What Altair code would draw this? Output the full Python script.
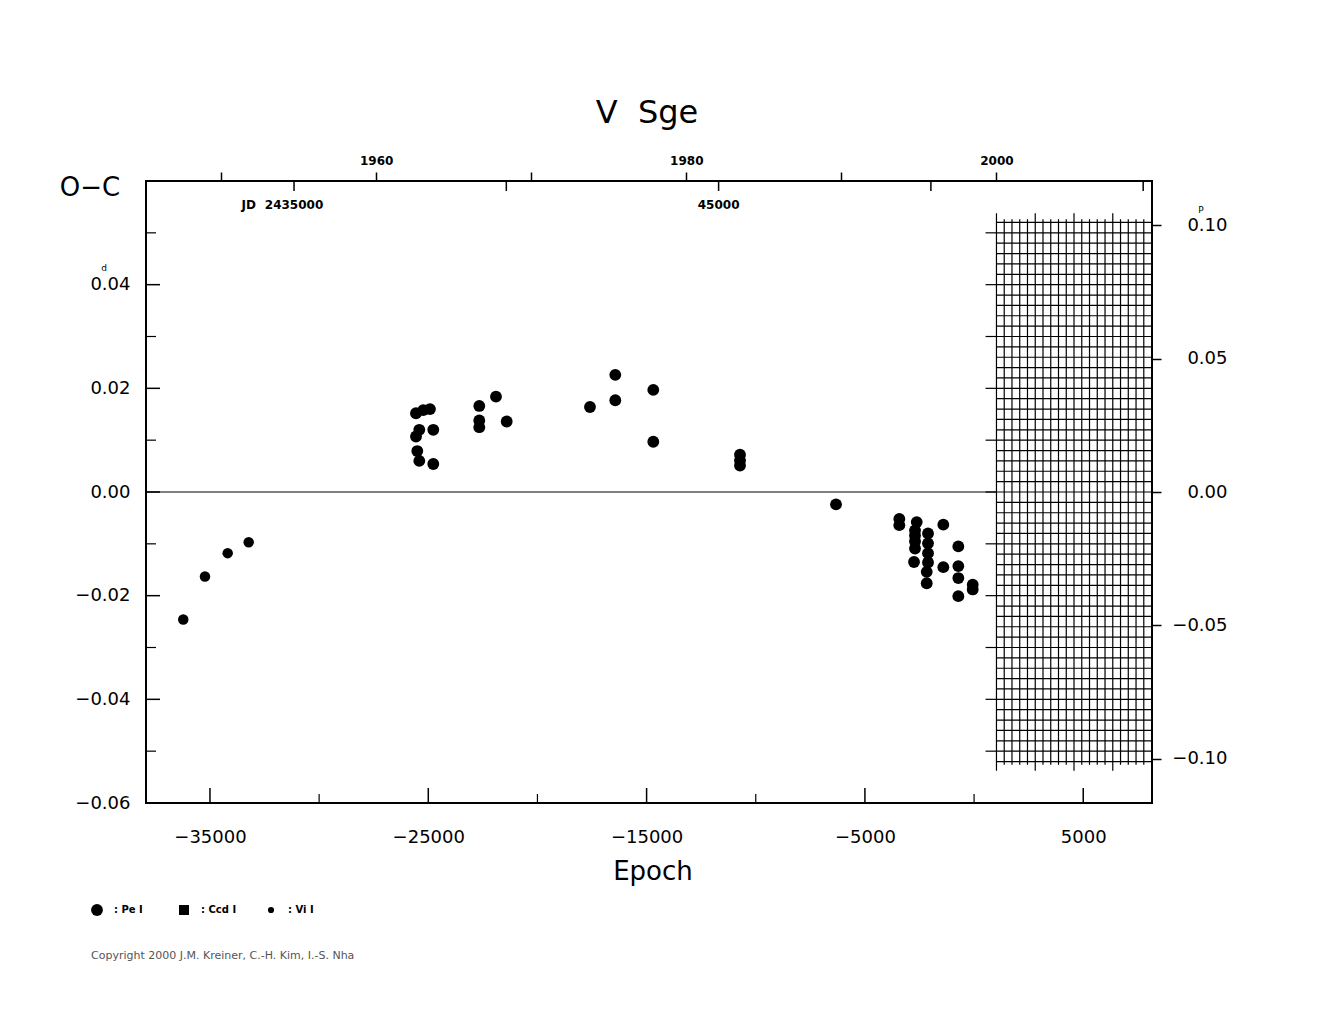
import altair as alt
import pandas as pd

# ---- ephemeris used for the calendar / JD scales on the epoch axis ----
PERIOD = 0.5142
T0 = 2451017.0
JD_2000 = 2451544.5

X_DOMAIN = [-37930, 8150]
Y_DOMAIN = [-0.06, 0.06]

# ---- data ----
pe_epoch = [-25563, -25229, -24922, -25412, -25563, -24771, -25504, -25412, -24771,
            -22664, -21899, -22664, -22664, -21409,
            -17593, -16434, -16434, -14693, -14693,
            -10722, -10722, -10722,
            -6324,
            -3424, -3424,
            -2627, -2705, -2705, -2705, -2705, -2751,
            -2110, -2110, -2110, -2110, -2169, -2169,
            -1409, -1409,
            -721, -721, -721, -721,
            -62, -62]
pe_oc = [0.0152, 0.0158, 0.0160, 0.0120, 0.0107, 0.0120, 0.0079, 0.0060, 0.0054,
         0.0166, 0.0184, 0.0138, 0.0125, 0.0136,
         0.0164, 0.0226, 0.0177, 0.0197, 0.0097,
         0.0072, 0.0061, 0.0051,
         -0.0024,
         -0.0052, -0.0064,
         -0.0058, -0.0074, -0.0084, -0.0095, -0.0109, -0.0135,
         -0.0080, -0.0099, -0.0118, -0.0136, -0.0154, -0.0176,
         -0.0063, -0.0145,
         -0.0105, -0.0143, -0.0166, -0.0201,
         -0.0179, -0.0188]
vi_epoch = [-36223, -35229, -34189, -33227]
vi_oc = [-0.0246, -0.0163, -0.0118, -0.0097]

types = ["Pe", "Ccd", "Vi"]
type_shapes = ["circle", "square", "circle"]
type_sizes = [140, 110, 38]
legend_labels = [": Pe I", ": Ccd I", ": Vi I"]

# ---- tick values ----
y_labels = [-0.06, -0.04, -0.02, 0.0, 0.02, 0.04]
y_major = [-0.04, -0.02, 0.0, 0.02, 0.04]
y_minor = [-0.05, -0.03, -0.01, 0.01, 0.03, 0.05]
x_major = [-35000, -25000, -15000, -5000, 5000]
x_minor = [-30000, -20000, -10000, 0]
year_ticks = [1950, 1960, 1970, 1980, 1990, 2000]
jd_ticks = [2435000, 2440000, 2445000, 2450000, 2455000]
jd_label_values = [2435000, 2445000]
jd_label_texts = ["2435000", "45000"]
phase_ticks = [-0.10, -0.05, 0.0, 0.05, 0.10]

# ---- hatched "future" grid (half-year columns, 0.002 d rows) ----
grid_years = [2000 + 0.5 * i for i in range(20)]
grid_rows = [round(-0.052 + 0.002 * i, 4) for i in range(53)]
grid_row_marks = [-0.05, -0.04, -0.03, -0.02, -0.01, 0.0, 0.01, 0.02, 0.03, 0.04, 0.05]


def year_to_epoch(y):
    return (JD_2000 + (y - 2000) * 365.25 - T0) / PERIOD


def jd_to_epoch(j):
    return (j - T0) / PERIOD


E2000 = year_to_epoch(2000)

xs = alt.Scale(domain=X_DOMAIN, nice=False, zero=False)
ys = alt.Scale(domain=Y_DOMAIN, nice=False, zero=False)
FONT = "DejaVu Sans"

df = pd.DataFrame({
    "epoch": pe_epoch + vi_epoch,
    "oc": pe_oc + vi_oc,
    "type": ["Pe"] * len(pe_epoch) + ["Vi"] * len(vi_epoch),
})

points = alt.Chart(df).mark_point(filled=True, opacity=1, color="black").encode(
    x=alt.X("epoch:Q", scale=xs,
            axis=alt.Axis(orient="bottom", values=x_major, format="d", ticks=False,
                          domain=False, grid=False, labelFont=FONT, labelFontSize=18,
                          labelColor="black", labelPadding=25, labelOverlap=False,
                          title=None)),
    y=alt.Y("oc:Q", scale=ys,
            axis=alt.Axis(orient="left", values=y_labels, format=".2f", ticks=False,
                          domain=False, grid=False, labelFont=FONT, labelFontSize=18,
                          labelColor="black", labelPadding=16, labelOverlap=False,
                          title=None)),
    shape=alt.Shape("type:N", scale=alt.Scale(domain=types, range=type_shapes), legend=None),
    size=alt.Size("type:N", scale=alt.Scale(domain=types, range=type_sizes), legend=None),
)

# horizontal grid rows (carry the top and right axes)
hgrid_df = pd.DataFrame({"y": grid_rows, "x1": [E2000] * len(grid_rows),
                         "x2": [X_DOMAIN[1]] * len(grid_rows)})
year_expr = f"round(2000 + (datum.value*{PERIOD} + {T0} - {JD_2000})/365.25)"
hgrid = alt.Chart(hgrid_df).mark_rule(color="black", strokeWidth=1.2).encode(
    x=alt.X("x1:Q", scale=xs,
            axis=alt.Axis(orient="top", values=[year_to_epoch(y) for y in year_ticks],
                          labelExpr=f"({year_expr}) % 20 == 0 ? format({year_expr}, 'd') : ''",
                          tickSize=9, tickWidth=1.5, tickColor="black", domain=False,
                          grid=False, labelFont=FONT, labelFontWeight="bold",
                          labelFontSize=12, labelColor="black", labelPadding=5,
                          labelOverlap=False, title=None)),
    x2="x2:Q",
    y=alt.Y("y:Q", scale=ys,
            axis=alt.Axis(orient="right", values=[p * PERIOD for p in phase_ticks],
                          labelExpr=f"format(datum.value/{PERIOD}, '.2f')",
                          tickSize=9, tickWidth=1.5, tickColor="black", domain=False,
                          grid=False, labelFont=FONT, labelFontSize=18, labelColor="black",
                          labelAlign="right", labelPadding=66, labelOverlap=False,
                          title=None)),
)

vg_rows = []
for i, yr in enumerate(grid_years):
    ext = 0.0538 if i % 5 == 0 else 0.0526
    vg_rows.append({"x": year_to_epoch(yr), "y1": -ext, "y2": ext})
vgrid = alt.Chart(pd.DataFrame(vg_rows)).mark_rule(color="black", strokeWidth=1.2).encode(
    x=alt.X("x:Q", scale=xs, axis=None),
    y=alt.Y("y1:Q", scale=ys, axis=None),
    y2="y2:Q",
)

gl_df = pd.DataFrame({"y": grid_row_marks, "x1": [E2000 - 500] * len(grid_row_marks),
                      "x2": [E2000] * len(grid_row_marks)})
grid_left = alt.Chart(gl_df).mark_rule(color="black", strokeWidth=1.2).encode(
    x=alt.X("x1:Q", scale=xs, axis=None), x2="x2:Q",
    y=alt.Y("y:Q", scale=ys, axis=None),
)

zero_df = pd.DataFrame({"y": [0.0], "x1": [X_DOMAIN[0]], "x2": [E2000]})
zero_line = alt.Chart(zero_df).mark_rule(color="black", strokeWidth=1.2).encode(
    x=alt.X("x1:Q", scale=xs, axis=None), x2="x2:Q",
    y=alt.Y("y:Q", scale=ys, axis=None),
)

# inward ticks on the left and bottom edges
ly_major = alt.Chart(pd.DataFrame({"y": y_major})).mark_rule(color="black", strokeWidth=1.5).encode(
    y=alt.Y("y:Q", scale=ys, axis=None), x=alt.value(0), x2=alt.value(14))
ly_minor = alt.Chart(pd.DataFrame({"y": y_minor})).mark_rule(color="black", strokeWidth=1.2).encode(
    y=alt.Y("y:Q", scale=ys, axis=None), x=alt.value(0), x2=alt.value(10))
bx_major = alt.Chart(pd.DataFrame({"x": x_major})).mark_rule(color="black", strokeWidth=1.5).encode(
    x=alt.X("x:Q", scale=xs, axis=None), y=alt.value(622), y2=alt.value(607))
bx_minor = alt.Chart(pd.DataFrame({"x": x_minor})).mark_rule(color="black", strokeWidth=1.2).encode(
    x=alt.X("x:Q", scale=xs, axis=None), y=alt.value(622), y2=alt.value(613))

# JD ticks hanging below the top edge
jd_tick_layer = alt.Chart(pd.DataFrame({"x": [jd_to_epoch(j) for j in jd_ticks]})).mark_rule(
    color="black", strokeWidth=1.5).encode(
    x=alt.X("x:Q", scale=xs, axis=None), y=alt.value(0), y2=alt.value(10))
jd_text = alt.Chart(pd.DataFrame({"x": [jd_to_epoch(j) for j in jd_label_values],
                                  "t": jd_label_texts})).mark_text(
    font=FONT, fontSize=12, fontWeight="bold", color="black", baseline="middle").encode(
    x=alt.X("x:Q", scale=xs, axis=None), y=alt.value(24), text="t:N")
jd_prefix = alt.Chart(pd.DataFrame({"x": [jd_to_epoch(jd_label_values[0])], "t": ["JD"]})).mark_text(
    font=FONT, fontSize=12, fontWeight="bold", color="black", baseline="middle",
    align="right", dx=-38).encode(
    x=alt.X("x:Q", scale=xs, axis=None), y=alt.value(24), text="t:N")


def label(text, x, y, size, align="center", weight="normal", color="black"):
    return alt.Chart(pd.DataFrame({"t": [text]})).mark_text(
        font=FONT, fontSize=size, fontWeight=weight, color=color, align=align,
        baseline="middle").encode(x=alt.value(x), y=alt.value(y), text="t:N")


def symbol(x, y, shape, size):
    return alt.Chart(pd.DataFrame({"s": [shape]})).mark_point(
        filled=True, opacity=1, color="black", shape=shape, size=size).encode(
        x=alt.value(x), y=alt.value(y))


# legend (symbols + labels) below the plot
legend_layers = []
for i, (shp, sz, lab) in enumerate(zip(type_shapes, type_sizes, legend_labels)):
    sx = -49 + 87 * i
    legend_layers.append(symbol(sx, 729, shp, sz if shp == "circle" else 100))
    legend_layers.append(label(lab, sx + 17, 729, 10, align="left", weight="bold"))

title = label("V\u00a0\u00a0Sge", 501, -68, 32)
oc_label = label("O\u2212C", -56, 7, 26)
epoch_label = label("Epoch", 507, 691, 26)
sup_d = label("d", -42, 87, 9)
sup_p = label("P", 1055, 29, 9)
copyright_txt = label("Copyright 2000 J.M. Kreiner, C.-H. Kim, I.-S. Nha", -55, 775, 11,
                      align="left", color="#555555")

chart = alt.layer(
    points, hgrid, vgrid, grid_left, zero_line, ly_major, ly_minor, bx_major, bx_minor,
    jd_tick_layer, jd_text, jd_prefix, title, oc_label, epoch_label, sup_d, sup_p,
    copyright_txt, *legend_layers,
).resolve_axis(x="independent", y="independent").properties(
    width=1006, height=622,
    autosize=alt.AutoSizeParams(type="none"),
    padding={"left": 146, "top": 181, "right": 173, "bottom": 217},
    background="white",
).configure_view(stroke="black", strokeWidth=2)

chart.save("out.html", embed_options={"renderer": "svg", "actions": False})
